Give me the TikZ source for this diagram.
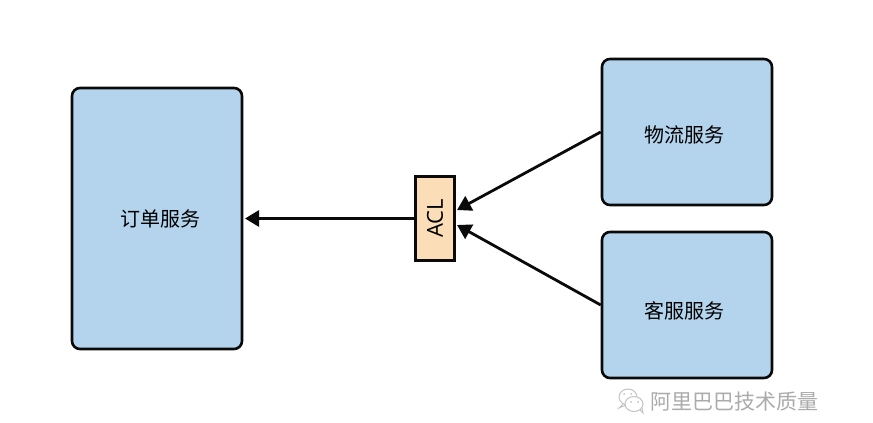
\documentclass[tikz,border=0pt]{standalone}
\usepackage{fontspec}
\setmainfont{Open Sans}
\newfontfamily\cjk{Noto Sans CJK SC}
\usetikzlibrary{arrows.meta}
\definecolor{svcblue}{HTML}{B3D4EC}
\definecolor{aclorange}{HTML}{FBDDB8}
\definecolor{linkblack}{HTML}{0A0A0A}
\definecolor{markgray}{HTML}{ABABAB}
\tikzset{
  service/.style={draw=linkblack, line width=2.6pt, fill=svcblue, rounded corners=8pt,
    minimum width=170pt, inner sep=0pt, text=black},
  svclabel/.style={font=\cjk\fontsize{20}{22}\selectfont, text=black, inner sep=0pt},
  adapter/.style={draw=linkblack, line width=2.6pt, fill=aclorange,
    minimum width=39pt, minimum height=84pt, inner sep=0pt},
  link/.style={draw=linkblack, line width=2.8pt, -{Triangle[length=14pt,width=16pt]}},
  bubble/.style={draw=markgray!70, line width=1pt, fill=white}
}
\begin{document}
\begin{tikzpicture}[x=1pt,y=-1pt]
  \useasboundingbox (0,0) rectangle (873,423);
  \fill[white] (0,0) rectangle (873,423);

  % services
  \node[service, minimum height=261pt] (order) at (157,218.5) {};
  \node[service, minimum height=146pt] (logistics) at (687,132) {};
  \node[service, minimum height=146pt] (support) at (687,305) {};
  \node[svclabel] (orderlabel) at (160.5,219) {订单服务};
  \node[svclabel] (logisticslabel) at (684.5,135) {物流服务};
  \node[svclabel] (supportlabel) at (684.5,311) {客服服务};

  % anti-corruption layer
  \node[adapter] (acl) at (435,218.5) {\rotatebox{90}{\fontsize{22}{24}\selectfont ACL}};

  % arrow tips beside the layer
  \coordinate (tipA) at (457,210);
  \coordinate (tipB) at (457,225);
  \coordinate (tipO) at (245,218.5);

  \draw[link] (logistics.west) -- (tipA);
  \draw[link] (support.west) -- (tipB);
  \draw[link] (acl.west) -- (tipO);

  % chat icon and account name
  \draw[bubble] (628,397) ellipse (9pt and 8pt);
  \draw[markgray!70, line width=1pt] (623,404) -- (619,408) -- (626,405);
  \draw[bubble] (634,404) ellipse (9pt and 7.5pt);
  \draw[markgray!70, line width=1pt] (640,410) -- (643,413) -- (642,408);
  \fill[markgray!70] (624,394) circle (1pt) (631,394) circle (1pt)
                     (631,402) circle (1pt) (638,402) circle (1pt);
  \node[text=markgray, font=\cjk\fontsize{21}{24}\selectfont, inner sep=0pt] (brand) at (734.5,402) {阿里巴巴技术质量};
\end{tikzpicture}
\end{document}
